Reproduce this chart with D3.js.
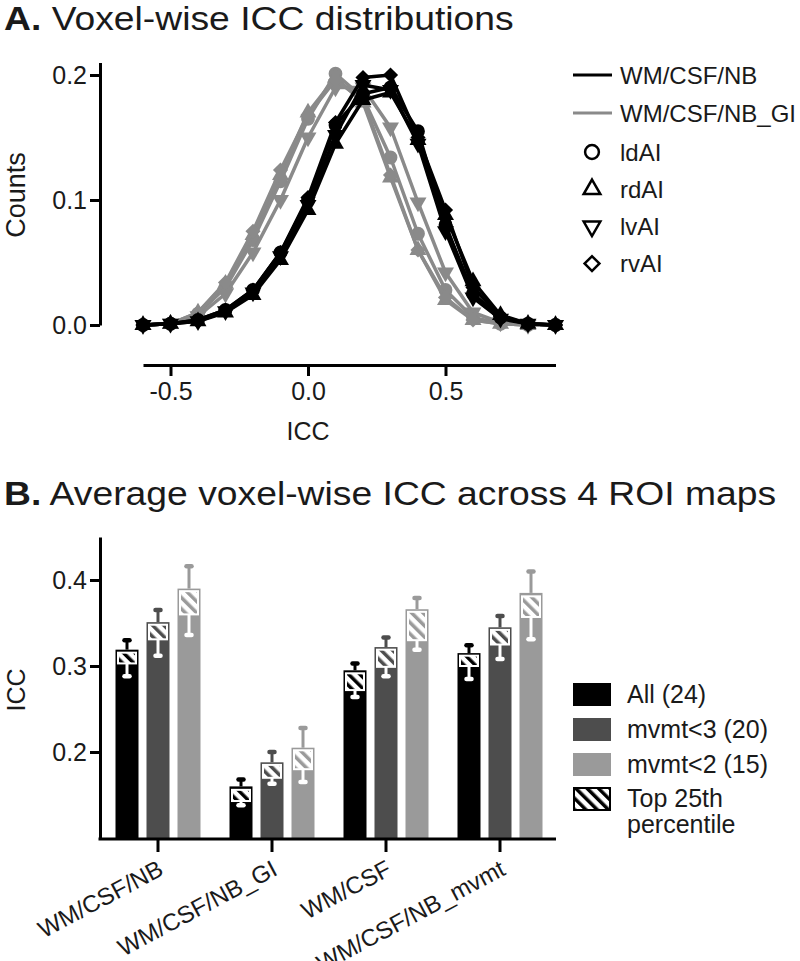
<!DOCTYPE html>
<html>
<head>
<meta charset="utf-8">
<script src="https://cdn.jsdelivr.net/npm/d3@7"></script>
<style>
  body { margin: 0; background: #fff; }
  svg { font-family: "Liberation Sans", Arial, sans-serif; }
  .axis path, .axis line { stroke: #000; stroke-width: 3; }
  .axis text { font-size: 25px; fill: #1a1a1a; font-family: "Liberation Sans", Arial, sans-serif; }
  .label { font-size: 25px; fill: #1a1a1a; }
  .legend { font-size: 24px; fill: #1a1a1a; }
</style>
</head>
<body>
<div id="chart"></div>
<script>
/*jshint esversion: 6 */
// ---------- panel A data: voxel-wise ICC histograms ----------
var iccBins = [-0.6, -0.5, -0.4, -0.3, -0.2, -0.1, 0.0, 0.1, 0.2, 0.3, 0.4, 0.5, 0.6, 0.7, 0.8, 0.9];

// WM/CSF/NB (black)
var ldAI_NB = [0, 0.001, 0.004, 0.012, 0.028, 0.058, 0.100, 0.160, 0.185, 0.190, 0.155, 0.080, 0.025, 0.006, 0.001, 0];
var rdAI_NB = [0, 0.001, 0.003, 0.010, 0.024, 0.052, 0.092, 0.145, 0.180, 0.186, 0.148, 0.088, 0.035, 0.008, 0.001, 0];
var lvAI_NB = [0, 0.001, 0.003, 0.011, 0.026, 0.055, 0.096, 0.152, 0.192, 0.188, 0.145, 0.075, 0.022, 0.005, 0.001, 0];
var rvAI_NB = [0, 0.001, 0.004, 0.012, 0.028, 0.058, 0.102, 0.162, 0.198, 0.200, 0.150, 0.092, 0.030, 0.007, 0.001, 0];

// WM/CSF/NB_GI (gray)
var ldAI_GI = [0, 0.001, 0.009, 0.030, 0.068, 0.115, 0.165, 0.201, 0.182, 0.134, 0.073, 0.028, 0.006, 0.001, 0, 0];
var rdAI_GI = [0, 0.001, 0.010, 0.033, 0.072, 0.120, 0.170, 0.198, 0.178, 0.118, 0.060, 0.020, 0.004, 0.001, 0, 0];
var lvAI_GI = [0, 0.001, 0.007, 0.025, 0.058, 0.100, 0.150, 0.190, 0.190, 0.158, 0.098, 0.042, 0.010, 0.002, 0, 0];
var rvAI_GI = [0, 0.001, 0.010, 0.034, 0.075, 0.124, 0.168, 0.196, 0.180, 0.120, 0.060, 0.022, 0.004, 0.001, 0, 0];

var regressions = ['WM/CSF/NB', 'WM/CSF/NB_GI'];
var rois = ['ldAI', 'rdAI', 'lvAI', 'rvAI'];
var countTicks = [0, 0.1, 0.2];
var iccTicks = [-0.5, 0, 0.5];

// ---------- panel B data: average ICC across ROI maps ----------
var models = ['WM/CSF/NB', 'WM/CSF/NB_GI', 'WM/CSF', 'WM/CSF/NB_mvmt'];
var subsets = ['All (24)', 'mvmt<3 (20)', 'mvmt<2 (15)'];

var meanAll = [0.319, 0.160, 0.295, 0.315];
var meanMv3 = [0.351, 0.188, 0.322, 0.345];
var meanMv2 = [0.390, 0.205, 0.366, 0.385];
var errAll = [0.011, 0.008, 0.008, 0.009];
var errMv3 = [0.014, 0.012, 0.011, 0.013];
var errMv2 = [0.026, 0.023, 0.013, 0.025];

// top 25th percentile: box top, box bottom, lower whisker
var top25All = [0.3155, 0.156, 0.2915, 0.312];
var top25Mv3 = [0.348, 0.185, 0.319, 0.342];
var top25Mv2 = [0.387, 0.202, 0.363, 0.381];
var boxAll = [0.303, 0.143, 0.272, 0.300];
var boxMv3 = [0.331, 0.170, 0.299, 0.325];
var boxMv2 = [0.360, 0.180, 0.330, 0.357];
var lowAll = [0.288, 0.138, 0.264, 0.285];
var lowMv3 = [0.312, 0.163, 0.288, 0.308];
var lowMv2 = [0.336, 0.165, 0.319, 0.331];
var iccTicksB = [0.2, 0.3, 0.4];

var lineColors = ['#000000', '#8a8a8a'];
var barColors = ['#000000', '#4d4d4d', '#9a9a9a'];

function translation(x, y) {
  return 'translate(' + x + ',' + y + ')';
}
// plain hyphen minus like the original figure
function fmt(d) { return d.toFixed(1); }

var svg = d3.select('#chart').append('svg')
  .attr('width', 800)
  .attr('height', 961);

// hatch patterns, one per bar colour
var defs = svg.append('defs');
barColors.forEach(function (c, i) {
  var p = defs.append('pattern')
    .attr('id', 'hatch' + i)
    .attr('patternUnits', 'userSpaceOnUse')
    .attr('width', 8).attr('height', 8)
    .attr('patternTransform', 'rotate(-45)');
  p.append('rect').attr('width', 8).attr('height', 8).attr('fill', '#fff');
  p.append('rect').attr('width', 3.5).attr('height', 8).attr('fill', c);
});

function panelTitle(y, letter, rest) {
  var t = svg.append('text')
    .attr('transform', translation(4, y) + ' scale(1.13,1)')
    .style('font-size', '33px')
    .attr('fill', '#1a1a1a');
  t.append('tspan').style('font-weight', 'bold').text(letter);
  t.append('tspan').text(rest);
}

// ================= PANEL A =================
panelTitle(30, 'A.', ' Voxel-wise ICC distributions');

var xA = d3.scaleLinear().domain([-0.6, 0.9]).range([143, 555.5]);
var yA = d3.scaleLinear().domain([0, 0.21]).range([325, 62.5]);

svg.append('g')
  .attr('class', 'axis')
  .attr('transform', translation(100, 0))
  .call(d3.axisLeft(yA).tickValues(countTicks).tickFormat(fmt).tickSize(10).tickSizeOuter(0).tickPadding(3));

svg.append('g')
  .attr('class', 'axis')
  .attr('transform', translation(0, 365))
  .call(d3.axisBottom(xA).tickValues(iccTicks).tickFormat(fmt).tickSize(11).tickSizeOuter(0).tickPadding(6));

svg.append('text').attr('class', 'label')
  .attr('transform', translation(25, 195) + ' rotate(-90)')
  .attr('text-anchor', 'middle')
  .style('font-size', '27px')
  .text('Counts');

svg.append('text').attr('class', 'label')
  .attr('x', xA(0)).attr('y', 440)
  .attr('text-anchor', 'middle')
  .text('ICC');

var shapes = [
  { type: d3.symbolCircle, rot: 0 },
  { type: d3.symbolTriangle, rot: 0 },
  { type: d3.symbolTriangle, rot: 180 },
  { type: d3.symbolSquare, rot: 45 }
];

var seriesA = [
  { reg: 1, roi: 0, values: ldAI_GI },
  { reg: 1, roi: 1, values: rdAI_GI },
  { reg: 1, roi: 2, values: lvAI_GI },
  { reg: 1, roi: 3, values: rvAI_GI },
  { reg: 0, roi: 0, values: ldAI_NB },
  { reg: 0, roi: 1, values: rdAI_NB },
  { reg: 0, roi: 2, values: lvAI_NB },
  { reg: 0, roi: 3, values: rvAI_NB }
];

var line = d3.line()
  .x(function (d, i) { return xA(iccBins[i]); })
  .y(function (d) { return yA(d); });

var markerSize = [150, 125, 125, 115];

seriesA.forEach(function (s) {
  var col = lineColors[s.reg];
  var g = svg.append('g');
  g.append('path')
    .attr('d', line(s.values))
    .attr('fill', 'none')
    .attr('stroke', col)
    .attr('stroke-width', 3.5)
    .attr('stroke-linejoin', 'round');
  g.selectAll('path.pt')
    .data(s.values)
    .enter().append('path')
    .attr('class', 'pt')
    .attr('transform', function (d, i) {
      return translation(xA(iccBins[i]), yA(d)) + ' rotate(' + shapes[s.roi].rot + ')';
    })
    .attr('d', d3.symbol().type(shapes[s.roi].type).size(markerSize[s.roi]))
    .attr('fill', col);
});

// legend A
var legA = svg.append('g');
regressions.forEach(function (r, i) {
  var yy = 75 + i * 38;
  legA.append('line')
    .attr('x1', 573).attr('x2', 612).attr('y1', yy).attr('y2', yy)
    .attr('stroke', lineColors[i]).attr('stroke-width', 3);
  legA.append('text').attr('class', 'legend')
    .attr('x', 620).attr('y', yy + 8.5).text(r);
});
var legSize = [150, 120, 120, 110];
rois.forEach(function (r, i) {
  var yy = 152 + i * 37.2;
  legA.append('path')
    .attr('transform', translation(592, yy) + ' rotate(' + shapes[i].rot + ')')
    .attr('d', d3.symbol().type(shapes[i].type).size(legSize[i]))
    .attr('fill', 'none').attr('stroke', '#000').attr('stroke-width', 2.5);
  legA.append('text').attr('class', 'legend')
    .attr('x', 620).attr('y', yy + 8.5).text(r);
});

// ================= PANEL B =================
panelTitle(505, 'B.', ' Average voxel-wise ICC across 4 ROI maps');

var xB = d3.scaleBand().domain(models).range([101, 557]);
var xSub = d3.scaleBand().domain(subsets).range([-46.5, 46.5]).paddingInner(0.258).paddingOuter(0.129);
var yB = d3.scaleLinear().domain([0.1, 0.45]).range([838, 537]);

var barData = [];
var means = [meanAll, meanMv3, meanMv2];
var errs = [errAll, errMv3, errMv2];
var tops = [top25All, top25Mv3, top25Mv2];
var boxes = [boxAll, boxMv3, boxMv2];
var lows = [lowAll, lowMv3, lowMv2];
models.forEach(function (m, mi) {
  subsets.forEach(function (s, si) {
    barData.push({
      model: m, subset: s, si: si,
      mean: means[si][mi], err: errs[si][mi],
      top: tops[si][mi], box: boxes[si][mi], low: lows[si][mi]
    });
  });
});

function barX(d) { return xB(d.model) + xB.bandwidth() / 2 + xSub(d.subset); }
function barC(d) { return barX(d) + xSub.bandwidth() / 2; }

var bars = svg.append('g').selectAll('g.bar')
  .data(barData)
  .enter().append('g')
  .attr('class', 'bar');

// upper error bar
bars.append('line')
  .attr('x1', barC).attr('x2', barC)
  .attr('y1', function (d) { return yB(d.mean); })
  .attr('y2', function (d) { return yB(d.mean + d.err); })
  .attr('stroke', function (d) { return barColors[d.si]; })
  .attr('stroke-width', 3);
bars.append('line')
  .attr('x1', function (d) { return barC(d) - 2.5; })
  .attr('x2', function (d) { return barC(d) + 2.5; })
  .attr('y1', function (d) { return yB(d.mean + d.err); })
  .attr('y2', function (d) { return yB(d.mean + d.err); })
  .attr('stroke', function (d) { return barColors[d.si]; })
  .attr('stroke-width', 4.5)
  .attr('stroke-linecap', 'round');

bars.append('rect')
  .attr('x', barX)
  .attr('width', xSub.bandwidth())
  .attr('y', function (d) { return yB(d.mean); })
  .attr('height', function (d) { return yB(0.1) - yB(d.mean); })
  .attr('fill', function (d) { return barColors[d.si]; });

// top 25th percentile overlay
bars.append('line')
  .attr('x1', barC).attr('x2', barC)
  .attr('y1', function (d) { return yB(d.box); })
  .attr('y2', function (d) { return yB(d.low); })
  .attr('stroke', '#fff')
  .attr('stroke-width', 3);
bars.append('line')
  .attr('x1', function (d) { return barC(d) - 2.5; })
  .attr('x2', function (d) { return barC(d) + 2.5; })
  .attr('y1', function (d) { return yB(d.low); })
  .attr('y2', function (d) { return yB(d.low); })
  .attr('stroke', '#fff')
  .attr('stroke-width', 4.5)
  .attr('stroke-linecap', 'round');
bars.append('rect')
  .attr('x', function (d) { return barX(d) + 2.5; })
  .attr('width', xSub.bandwidth() - 5)
  .attr('y', function (d) { return yB(d.top); })
  .attr('height', function (d) { return yB(d.box) - yB(d.top); })
  .attr('fill', function (d) { return 'url(#hatch' + d.si + ')'; })
  .attr('stroke', '#fff')
  .attr('stroke-width', 2);

// axes B
svg.append('g')
  .attr('class', 'axis')
  .attr('transform', translation(100, 0))
  .call(d3.axisLeft(yB).tickValues(iccTicksB).tickFormat(fmt).tickSize(10).tickSizeOuter(0).tickPadding(3));

var xAxisB = svg.append('g')
  .attr('class', 'axis')
  .attr('transform', translation(0, 839))
  .call(d3.axisBottom(xB).tickSize(13).tickSizeOuter(0));
xAxisB.select('.domain').attr('d', 'M98.5,0H556');
xAxisB.selectAll('.tick text')
  .style('font-size', '24px')
  .attr('text-anchor', 'end')
  .attr('dy', 0)
  .attr('y', 0)
  .attr('transform', 'translate(7,35) rotate(-28)');

svg.append('text').attr('class', 'label')
  .attr('transform', translation(25, 690) + ' rotate(-90)')
  .attr('text-anchor', 'middle')
  .text('ICC');

// legend B
var legB = svg.append('g');
subsets.forEach(function (s, i) {
  var yy = 683 + i * 35;
  legB.append('rect')
    .attr('x', 573).attr('y', yy).attr('width', 38).attr('height', 23)
    .attr('fill', barColors[i]);
  legB.append('text').attr('class', 'label')
    .attr('x', 627).attr('y', yy + 20).text(s);
});
legB.append('rect')
  .attr('x', 574).attr('y', 788).attr('width', 36).attr('height', 22)
  .attr('fill', 'url(#hatch0)')
  .attr('stroke', '#000').attr('stroke-width', 2);
legB.append('text').attr('class', 'label').attr('x', 627).attr('y', 807).text('Top 25th');
legB.append('text').attr('class', 'label').attr('x', 627).attr('y', 833).text('percentile');
</script>
</body>
</html>
